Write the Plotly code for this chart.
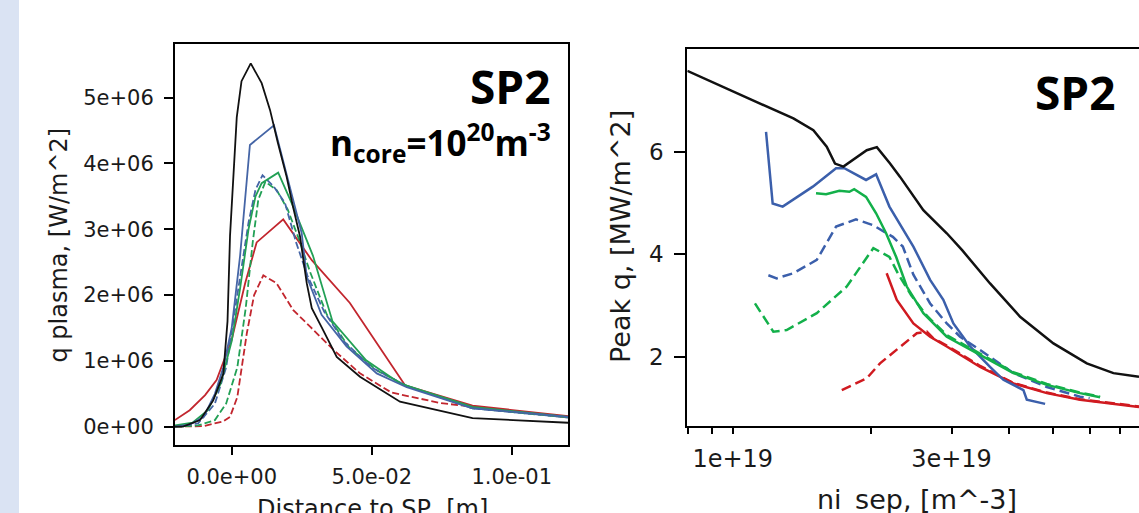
import numpy as np
import plotly.graph_objects as go

W, H = 1139, 513

# ---------------- Left panel data: q plasma vs distance to SP ----------------
# x in m, q in units of 1e6 W/m^2
x_black = [-0.0203, -0.0174, -0.0113, -0.0066, -0.003, -0.0015, -0.0006, 0.0018, 0.0035, 0.0068, 0.0107, 0.0137, 0.0165, 0.0196, 0.0219, 0.0244, 0.0268, 0.0286, 0.0326, 0.0375, 0.0458, 0.0601, 0.086, 0.1202]
q_black = [0.0, 0.0, 0.1, 0.4, 0.8, 1.6, 2.9, 4.7, 5.25, 5.52, 5.22, 4.81, 4.31, 3.80, 3.34, 2.89, 2.18, 1.80, 1.47, 1.06, 0.76, 0.38, 0.13, 0.06]

x_blue = [-0.0203, -0.015, -0.010, -0.006, -0.003, 0.0, 0.003, 0.005, 0.0065, 0.0151, 0.0183, 0.0219, 0.025, 0.0268, 0.0321, 0.041, 0.0518, 0.0625, 0.086, 0.1202]
q_blue = [0.0, 0.03, 0.15, 0.5, 0.9, 1.5, 2.6, 3.6, 4.28, 4.58, 4.05, 3.45, 2.94, 2.28, 1.70, 1.22, 0.81, 0.60, 0.28, 0.15]

x_blue_d = [-0.0203, -0.012, -0.006, -0.002, 0.002, 0.006, 0.0085, 0.011, 0.015, 0.019, 0.023, 0.027, 0.033, 0.040, 0.050, 0.0625, 0.086, 0.1202]
q_blue_d = [0.0, 0.05, 0.35, 0.9, 2.0, 3.1, 3.6, 3.82, 3.65, 3.4, 2.8, 2.3, 1.75, 1.30, 0.90, 0.62, 0.28, 0.14]

x_green = [-0.0203, -0.014, -0.0085, -0.004, 0.0, 0.003, 0.006, 0.0085, 0.0107, 0.0166, 0.022, 0.029, 0.036, 0.048, 0.060, 0.086, 0.1202]
q_green = [0.02, 0.06, 0.25, 0.65, 1.3, 2.1, 3.0, 3.5, 3.70, 3.86, 3.34, 2.60, 1.60, 1.01, 0.66, 0.30, 0.15]

x_green_d = [-0.0203, -0.012, -0.006, -0.002, 0.002, 0.005, 0.0075, 0.0095, 0.012, 0.016, 0.020, 0.024, 0.028, 0.034, 0.042, 0.052, 0.0625, 0.086, 0.1202]
q_green_d = [0.0, 0.02, 0.1, 0.35, 0.9, 1.8, 2.8, 3.45, 3.72, 3.60, 3.30, 2.85, 2.35, 1.70, 1.20, 0.85, 0.62, 0.28, 0.14]

x_red = [-0.0203, -0.015, -0.0095, -0.0054, 0.0, 0.0048, 0.0089, 0.0184, 0.0286, 0.0422, 0.0619, 0.086, 0.1202]
q_red = [0.1, 0.25, 0.48, 0.71, 1.32, 2.18, 2.80, 3.15, 2.53, 1.88, 0.63, 0.32, 0.16]

x_red_d = [-0.0203, -0.010, -0.003, -0.0006, 0.002, 0.004, 0.0054, 0.008, 0.0113, 0.016, 0.022, 0.028, 0.0363, 0.0458, 0.057, 0.0744, 0.1202]
q_red_d = [0.0, 0.01, 0.08, 0.15, 0.45, 1.0, 1.42, 2.0, 2.30, 2.18, 1.77, 1.52, 1.17, 0.81, 0.52, 0.36, 0.14]

left_xticks = [0.0, 0.05, 0.10]
left_xticklabels = ["0.0e+00", "5.0e-02", "1.0e-01"]
left_yticks = [0, 1e6, 2e6, 3e6, 4e6, 5e6]
left_yticklabels = ["0e+00", "1e+06", "2e+06", "3e+06", "4e+06", "5e+06"]

# ---------------- Right panel data: peak q vs ni_sep ----------------
# ni_sep in units of 1e19 m^-3, peak q in MW/m^2
n_black = [0.796, 1.003, 1.186, 1.356, 1.499, 1.603, 1.671, 1.743, 1.96, 2.062, 2.203, 2.317, 2.604, 2.929, 3.164, 3.64, 4.233, 5.004, 5.917, 6.764, 7.69]
p_black = [7.58, 7.17, 6.88, 6.65, 6.42, 6.10, 5.77, 5.71, 6.03, 6.09, 5.77, 5.51, 4.86, 4.41, 4.08, 3.43, 2.78, 2.26, 1.87, 1.68, 1.61]

n_blue = [1.182, 1.222, 1.285, 1.495, 1.68, 1.751, 1.953, 2.054, 2.196, 2.309, 2.477, 2.694, 2.879, 3.028, 3.293, 3.64, 3.892, 4.304, 4.378, 4.799]
p_blue = [6.39, 4.99, 4.93, 5.32, 5.68, 5.68, 5.45, 5.56, 4.93, 4.60, 4.15, 3.50, 3.11, 2.65, 2.20, 1.80, 1.55, 1.35, 1.16, 1.08]

n_blue_d = [1.196, 1.247, 1.356, 1.525, 1.68, 1.857, 2.020, 2.234, 2.349, 2.477, 2.694, 2.929, 3.132, 3.463, 4.093, 4.841, 5.72, 6.0]
p_blue_d = [3.59, 3.53, 3.63, 3.89, 4.54, 4.68, 4.57, 4.34, 4.15, 3.60, 3.04, 2.65, 2.39, 2.13, 1.68, 1.41, 1.22, 1.19]

n_green = [1.519, 1.598, 1.708, 1.796, 1.84, 1.953, 2.054, 2.16, 2.271, 2.396, 2.604, 2.929, 3.406, 4.093, 4.841, 5.72, 6.325]
p_green = [5.19, 5.17, 5.24, 5.22, 5.27, 5.12, 4.80, 4.41, 3.95, 3.37, 2.85, 2.39, 2.07, 1.68, 1.45, 1.29, 1.21]

n_green_d = [1.118, 1.226, 1.311, 1.525, 1.773, 2.026, 2.196, 2.30, 2.45, 2.65, 2.93, 3.40, 4.09, 4.84, 5.72, 6.325]
p_green_d = [3.04, 2.49, 2.52, 2.85, 3.37, 4.12, 3.95, 3.60, 3.20, 2.80, 2.42, 2.10, 1.70, 1.47, 1.30, 1.22]

n_red = [2.166, 2.279, 2.477, 2.694, 2.929, 3.184, 3.463, 4.093, 4.841, 5.72, 6.764, 7.69]
p_red = [3.63, 3.11, 2.65, 2.39, 2.20, 2.00, 1.80, 1.48, 1.29, 1.16, 1.08, 1.02]

n_red_d = [1.729, 1.96, 2.095, 2.317, 2.52, 2.649, 2.739, 2.929, 3.184, 3.463, 4.093, 4.841, 5.72, 6.764, 7.69]
p_red_d = [1.35, 1.58, 1.87, 2.20, 2.46, 2.49, 2.36, 2.22, 2.02, 1.82, 1.49, 1.30, 1.17, 1.09, 1.03]

right_xticks = [1e19, 3e19]
right_xticklabels = ["1e+19", "3e+19"]
right_xminor = [8e18, 9e18, 2e19, 4e19, 5e19, 6e19, 7e19]
right_yticks = [2, 4, 6]
right_yticklabels = ["2", "4", "6"]

# ---------------- styles ----------------
L_BLACK, L_BLUE, L_GREEN, L_RED = "#111111", "#4565a6", "#22a055", "#c2262e"
R_BLACK, R_BLUE, R_GREEN, R_RED = "#111111", "#3b5fab", "#13b04a", "#d01a20"
FONT = "DejaVu Sans"
TXT = "#1a1a1a"

fig = go.Figure()

def add_left(x, y, color, dash):
    fig.add_trace(go.Scatter(x=x, y=np.array(y) * 1e6, mode="lines",
                             line=dict(color=color, width=1.8, dash=dash),
                             xaxis="x", yaxis="y", showlegend=False, hoverinfo="skip"))

def add_right(x, y, color, dash):
    fig.add_trace(go.Scatter(x=np.array(x) * 1e19, y=y, mode="lines",
                             line=dict(color=color, width=2.5, dash=dash),
                             xaxis="x2", yaxis="y2", showlegend=False, hoverinfo="skip"))

LD = "7px,3px"
RD = "10px,5px"
add_left(x_red_d, q_red_d, L_RED, LD)
add_left(x_red, q_red, L_RED, "solid")
add_left(x_green_d, q_green_d, L_GREEN, LD)
add_left(x_blue_d, q_blue_d, L_BLUE, LD)
add_left(x_green, q_green, L_GREEN, "solid")
add_left(x_blue, q_blue, L_BLUE, "solid")
add_left(x_black, q_black, L_BLACK, "solid")

add_right(n_red_d, p_red_d, R_RED, RD)
add_right(n_red, p_red, R_RED, "solid")
add_right(n_blue_d, p_blue_d, R_BLUE, RD)
add_right(n_blue, p_blue, R_BLUE, "solid")
add_right(n_green_d, p_green_d, R_GREEN, RD)
add_right(n_green, p_green, R_GREEN, "solid")
add_right(n_black, p_black, R_BLACK, "solid")

def px(v):
    return v / W

def py(v):
    return 1 - v / H

axis_common = dict(showgrid=False, zeroline=False, showline=True, linecolor="black",
                   linewidth=2, ticks="outside", tickcolor="black", tickwidth=2)

LOG_RANGE = [np.log10(7.96e18), np.log10(7.69e19)]

fig.update_layout(
    width=W, height=H,
    margin=dict(l=0, r=0, t=0, b=0),
    paper_bgcolor="white", plot_bgcolor="white",
    xaxis=dict(domain=[px(175), px(568.3)], anchor="y", range=[-0.02025, 0.1202],
               tickvals=left_xticks, ticktext=left_xticklabels, ticklen=8, mirror=True,
               tickfont=dict(family=FONT, size=21, color=TXT), ticklabelstandoff=4, **axis_common),
    yaxis=dict(domain=[py(445), py(44.3)], anchor="x", range=[-0.278e6, 5.81e6],
               tickvals=left_yticks, ticktext=left_yticklabels, ticklen=9, mirror=True,
               tickfont=dict(family=FONT, size=21, color=TXT), ticklabelstandoff=6, **axis_common),
    xaxis2=dict(domain=[px(687.3), 1.0], anchor="y2", type="log", range=LOG_RANGE,
                tickvals=right_xticks, ticktext=right_xticklabels, ticklen=6, mirror=True,
                minor=dict(tickvals=right_xminor, ticklen=6, tickwidth=2, tickcolor="black", ticks="outside"),
                tickfont=dict(family=FONT, size=24, color=TXT), ticklabelstandoff=4, **axis_common),
    xaxis3=dict(overlaying="x2", anchor="y2", type="log", range=LOG_RANGE,
                tickvals=[1e19], showticklabels=False, ticks="outside", ticklen=11, tickwidth=2,
                tickcolor="black", showgrid=False, showline=False, zeroline=False, side="bottom"),
    yaxis2=dict(domain=[py(425.7), py(49.3)], anchor="x2", range=[0.654, 8.0],
                tickvals=right_yticks, ticktext=right_yticklabels, ticklen=11, mirror=False,
                tickfont=dict(family=FONT, size=23, color=TXT), ticklabelstandoff=6, **axis_common),
)

annotations = [
    dict(text="q plasma, [W/m^2]", x=px(58.5), y=py(245), textangle=-90,
         font=dict(family=FONT, size=24, color=TXT)),
    dict(text="Distance to SP, [m]", x=px(372), y=py(509),
         font=dict(family=FONT, size=24, color=TXT)),
    dict(text="Peak q, [MW/m^2]", x=px(620), y=py(237), textangle=-90,
         font=dict(family=FONT, size=27, color=TXT)),
    dict(text="ni_sep, [m^-3]", x=px(917), y=py(499),
         font=dict(family=FONT, size=27, color=TXT)),
    dict(text="<b>SP2</b>", x=px(553), y=py(86), xanchor="right",
         font=dict(family="Open Sans", size=46, color="black")),
    dict(text="<b>n<sub>core</sub>=10<sup>20</sup>m<sup>-3</sup></b>", x=px(553), y=py(142), xanchor="right",
         font=dict(family="Open Sans", size=35, color="black")),
    dict(text="<b>SP2</b>", x=px(1118), y=py(92), xanchor="right",
         font=dict(family="Open Sans", size=46, color="black")),
]
for a in annotations:
    a.setdefault("xanchor", "center")
    a.update(xref="paper", yref="paper", yanchor="middle", showarrow=False)
fig.update_layout(annotations=annotations)

fig.add_shape(type="rect", xref="paper", yref="paper", x0=0, x1=px(19), y0=0, y1=1,
              fillcolor="#dae3f3", line=dict(width=0), layer="below")

fig.write_html("out.html", config={"displayModeBar": False},
               post_script="document.body.style.margin='0';document.body.style.overflow='hidden';")
